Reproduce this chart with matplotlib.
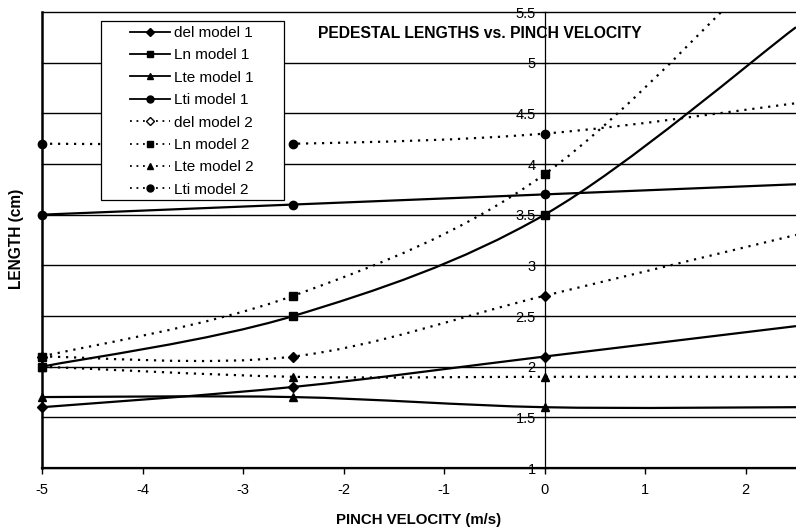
import numpy as np
import matplotlib
matplotlib.use("Agg")
import matplotlib.pyplot as plt
from matplotlib.path import Path
from matplotlib.patches import PathPatch, Rectangle
from matplotlib.lines import Line2D

plt.rcParams['font.family'] = ['Liberation Sans', 'DejaVu Sans']

velocity = [-5, -2.5, 0, 2.5]
del_model1 = [1.6, 1.8, 2.1, 2.4]
ln_model1 = [2.0, 2.5, 3.5, 5.35]
lte_model1 = [1.7, 1.7, 1.6, 1.6]
lti_model1 = [3.5, 3.6, 3.7, 3.8]
del_model2 = [2.1, 2.1, 2.7, 3.3]
ln_model2 = [2.1, 2.7, 3.9, 6.25]
lte_model2 = [2.0, 1.9, 1.9, 1.9]
lti_model2 = [4.2, 4.2, 4.3, 4.6]

series = [
    ("del model 1", del_model1, "-", "D"),
    ("Ln model 1", ln_model1, "-", "s"),
    ("Lte model 1", lte_model1, "-", "^"),
    ("Lti model 1", lti_model1, "-", "o"),
    ("del model 2", del_model2, "dotted", "D"),
    ("Ln model 2", ln_model2, "dotted", "s"),
    ("Lte model 2", lte_model2, "dotted", "^"),
    ("Lti model 2", lti_model2, "dotted", "o"),
]

W, H = 796, 527
fig = plt.figure(figsize=(W / 100, H / 100), dpi=100)
ax = fig.add_axes([42 / W, 59 / H, (W - 42) / W, (468 - 12) / H])
ax.set_xlim(-5, 2.5)
ax.set_ylim(1, 5.5)


def smooth_path(xs, ys):
    pts = np.column_stack([xs, ys]).astype(float)
    n = len(pts)
    verts = [pts[0]]
    codes = [Path.MOVETO]
    for i in range(n - 1):
        p0 = pts[i - 1] if i > 0 else pts[i]
        p1 = pts[i]
        p2 = pts[i + 1]
        p3 = pts[i + 2] if i + 2 < n else pts[i + 1]
        c1 = p1 + (p2 - p0) / 6.0
        c2 = p2 - (p3 - p1) / 6.0
        verts += [c1, c2, p2]
        codes += [Path.CURVE4] * 3
    return Path(verts, codes)


dotted = (0, (1, 2.6))
handles = []
for label, vals, ls, mk in series:
    style = dotted if ls == "dotted" else "-"
    patch = PathPatch(smooth_path(velocity, vals), facecolor="none",
                      edgecolor="black", lw=1.6, linestyle=style, zorder=3)
    ax.add_patch(patch)
    ax.plot(velocity[:3], vals[:3], ls="none", marker=mk, color="black",
            ms=6 if mk != "D" else 5, clip_on=False, zorder=4)
    mfc = "white" if label == "del model 2" else "black"
    handles.append(Line2D([], [], color="black", linestyle=style, lw=1.3,
                          marker=mk, ms=5 if mk != "D" else 4, mfc=mfc, mec="black"))

# frame / axes
for s in ["top", "right"]:
    ax.spines[s].set_visible(False)
ax.spines["left"].set_position(("data", 0))
ax.spines["left"].set_linewidth(0.9)
ax.spines["bottom"].set_linewidth(1.6)
ax.axvline(-5, color="black", lw=1.8, zorder=2.5, clip_on=False)

ax.set_yticks(np.arange(1, 5.51, 0.5))
ax.set_yticklabels(["1", "1.5", "2", "2.5", "3", "3.5", "4", "4.5", "5", "5.5"])
ax.set_xticks(np.arange(-5, 2.1, 1))
ax.set_xticklabels([str(v) for v in range(-5, 3)])
ax.yaxis.grid(True, color="black", lw=1.0)
for gl in ax.yaxis.get_gridlines():
    gl.set_clip_on(False)
ax.tick_params(axis="y", direction="inout", length=5, width=0.8, labelsize=10.5, pad=4)
ax.tick_params(axis="x", direction="out", length=4, width=1.0, labelsize=10.5, pad=7)

ax.set_xlabel("PINCH VELOCITY (m/s)", fontsize=10.8, fontweight="bold", labelpad=11)
fig.text(17 / W, 1 - 239 / H, "LENGTH (cm)", rotation=90, ha="center", va="center",
         fontsize=11.2, fontweight="bold")
fig.text(318 / W, 1 - 33 / H, "PEDESTAL LENGTHS vs. PINCH VELOCITY", ha="left",
         va="center", fontsize=11.3, fontweight="bold")

# legend frame drawn explicitly, legend content placed inside
frame = Rectangle((101 / W, 1 - 200 / H), (284 - 101) / W, (200 - 21) / H,
                  transform=fig.transFigure, facecolor="white",
                  edgecolor="black", lw=0.9, zorder=9, clip_on=False)
ax.add_artist(frame)
leg = ax.legend(handles, [s[0] for s in series], loc="upper left",
                bbox_to_anchor=(130 / W, 1 - 26 / H), bbox_transform=fig.transFigure,
                frameon=False, borderaxespad=0, borderpad=0, handlelength=2.6,
                handletextpad=0.3, fontsize=11, labelspacing=0.55)
leg.set_zorder(10)

fig.savefig("out.png", dpi=100)
